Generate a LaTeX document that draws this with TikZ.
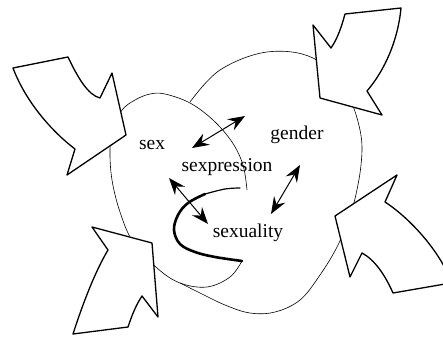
\documentclass[tikz,border=0pt]{standalone}
\usepackage{fontspec}
\setmainfont{Liberation Serif}
\usetikzlibrary{arrows.meta}
\begin{document}
\begin{tikzpicture}[x=1pt,y=-1pt,
  outline/.style={draw=black,line width=0.6pt},
  blockarrow/.style={draw=black,fill=white,line width=1.3pt,line join=round},
  lbl/.style={font=\fontsize{19.5}{22}\selectfont,anchor=base,inner sep=0pt},
  dblarrow/.style={line width=1pt,{Stealth[length=17pt,width=13pt,inset=6pt]}-{Stealth[length=17pt,width=13pt,inset=6pt]}},
  brush/.style={line width=2.6pt,line cap=round}]
\useasboundingbox (0,0) rectangle (443,337);
% sex ellipse (left)
\draw[outline] plot[smooth,tension=0.6] coordinates {(247,190) (243,165) (232,142) (213,120) (190,103) (165,94) (150,94) (135,100) (122,110) (113,128) (110,150) (112,180) (120,212) (133,242) (157,268) (180,283) (207,287) (230,277) (242,261)};
% gender shape (right)
\draw[outline] plot[smooth,tension=0.6] coordinates {(190,102) (220,70) (267,52) (313,58) (345,90) (360,130) (361,165) (352,210) (338,245) (320,275) (300,300) (275,312) (250,313) (225,305) (200,293) (180,283)};
% block arrows
\draw[blockarrow] (13,68) -- (68,57) .. controls (78,78) and (88,95) .. (100,98) -- (112,73) -- (126,135) -- (67,175) -- (75,149) .. controls (50,130) and (25,100) .. cycle;
\draw[blockarrow] (345,14) -- (401,8) .. controls (398,40) and (385,70) .. (367,91) -- (382,115) -- (320,98) -- (313,25) -- (331,48) .. controls (338,38) and (342,25) .. cycle;
\draw[blockarrow] (92,227) -- (152,243) -- (158,317) -- (142,296) .. controls (136,305) and (132,315) .. (128,327) -- (73,334) .. controls (84,300) and (96,270) .. (108,250) -- cycle;
\draw[blockarrow] (335,216) -- (397,175) -- (385,202) .. controls (405,215) and (430,240) .. (445,268) -- (445,284) -- (393,293) .. controls (385,275) and (375,260) .. (362,253) -- (350,277) -- cycle;
% labels
\node[lbl] (sex) at (152,149) {sex};
\node[lbl] (gender) at (297,139) {gender};
\node[lbl] (sexpression) at (227,171) {sexpression};
\node[lbl] (sexuality) at (248,237) {sexuality};
% relation arrows
\coordinate (a1) at (192,148);
\coordinate (a2) at (245,116);
\coordinate (b1) at (300,165);
\coordinate (b2) at (271,214);
\coordinate (c1) at (169,178);
\coordinate (c2) at (208,224);
\draw[dblarrow] (a1) -- (a2);
\draw[dblarrow] (b1) -- (b2);
\draw[dblarrow] (c1) -- (c2);
% brush curve
\draw[line width=1.2pt,line cap=round] plot[smooth,tension=0.6] coordinates {(240,188) (225,189) (205,194)};
\draw[brush] plot[smooth,tension=0.6] coordinates {(205,194) (188,203) (178,215) (174,230) (180,244) (195,252) (215,257) (242,261)};
\end{tikzpicture}
\end{document}
